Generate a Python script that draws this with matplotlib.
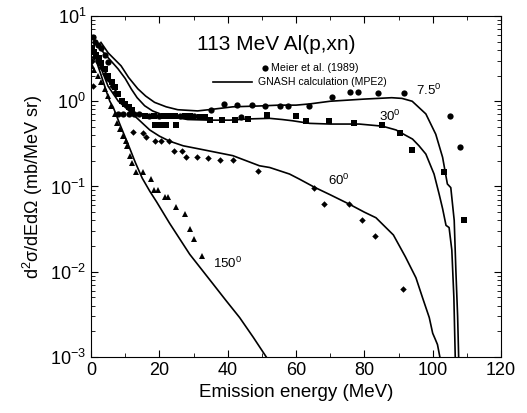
import matplotlib
matplotlib.use("Agg")
import matplotlib.pyplot as plt
from matplotlib.ticker import MultipleLocator, LogLocator, NullFormatter

plt.rcParams['font.family'] = ['Liberation Sans', 'DejaVu Sans']
plt.rcParams['mathtext.fontset'] = 'custom'
plt.rcParams['mathtext.rm'] = 'Liberation Sans'
plt.rcParams['mathtext.it'] = 'Liberation Sans'

# ---- calculation curves (GNASH) ----
calc75_x = [2.9, 5, 8.8, 11, 13.7, 16, 18.6, 22, 25.4, 31.2, 35, 41.5, 49.3, 55, 60, 64, 70, 80, 88, 91,
            94, 98, 100.9, 102.9, 104.3, 105.3, 106.3, 106.8, 107.3, 107.6]
calc75_y = [4.9, 3.7, 2.6, 1.9, 1.4, 1.15, 0.97, 0.86, 0.795, 0.77, 0.80, 0.86, 0.88, 0.90, 0.90, 0.93, 1.0,
            1.06, 1.1, 1.08, 1.0, 0.71, 0.41, 0.22, 0.107, 0.097, 0.04, 0.01, 0.003, 0.001]

calc30_x = [1.5, 4, 7.9, 10, 11.8, 13.5, 15.7, 18, 21.5, 28.3, 35, 40.6, 46, 52.3, 56, 59, 64, 70, 78.5,
            85.3, 89.3, 92, 94.1, 96, 98, 100.4, 101.9, 102.9, 103.9, 104.8, 105.6, 106.2, 106.6]
calc30_y = [4.7, 3.6, 2.4, 1.85, 1.39, 1.1, 0.885, 0.77, 0.68, 0.61, 0.60, 0.60, 0.62, 0.63, 0.61, 0.59,
            0.55, 0.54, 0.54, 0.51, 0.46, 0.40, 0.36, 0.30, 0.24, 0.14, 0.081, 0.055, 0.035, 0.033, 0.018,
            0.005, 0.001]

calc60_x = [1.5, 3, 5, 8, 10, 14.3, 17.2, 20, 23, 27, 31.8, 41.5, 49.3, 52.3, 58.1, 61, 65.4, 70, 75.6,
            80, 83.4, 88.5, 92, 95.1, 97, 99, 100, 100.8, 101.4, 102.1]
calc60_y = [3.8, 2.4, 1.5, 1.0, 0.85, 0.59, 0.46, 0.39, 0.34, 0.30, 0.275, 0.23, 0.175, 0.167, 0.14, 0.122,
            0.098, 0.08, 0.062, 0.05, 0.043, 0.027, 0.015, 0.0085, 0.005, 0.0029, 0.0019, 0.0016, 0.0014,
            0.001]

calc150_x = [1.5, 3, 4.5, 5.5, 6.5, 8.5, 10.9, 13, 15, 17.2, 19.2, 23, 28.9, 35.7, 39.5, 43.5, 47.5, 51.3]
calc150_y = [3.0, 2.0, 1.3, 1.0, 0.85, 0.53, 0.31, 0.19, 0.125, 0.088, 0.066, 0.037, 0.016, 0.0072,
             0.0046, 0.0029, 0.0017, 0.001]

# ---- experimental data (Meier et al. 1989) ----
exp75_x = [0.6, 1.2, 2.0, 3.0, 4.0, 5.0, 8.0, 9.5, 11, 12.5, 14, 17, 20, 26, 30, 44,
           35, 38.8, 42.8, 47.2, 50.8, 55.4, 57.8, 63.9, 70.6, 75.8, 78.2, 83.9, 91.7, 105.2, 107.9]
exp75_y = [5.7, 5.0, 4.6, 4.2, 3.5, 2.9, 0.70, 0.71, 0.71, 0.70, 0.70, 0.68, 0.68, 0.68, 0.67, 0.66,
           0.79, 0.93, 0.91, 0.91, 0.886, 0.89, 0.89, 0.87, 1.11, 1.29, 1.29, 1.26, 1.25, 0.68, 0.29]

exp30_x = [0.3, 0.8, 1.5, 2.2, 3.0, 4, 5, 6, 7, 8, 9, 10, 11, 12,
           15.8, 18.5, 21.5, 23, 24.5, 27.5, 29, 32, 33.5,
           18.6, 20.1, 22, 24.9,
           34.7, 38.2, 42, 45.9, 51.4, 60, 63, 69.6, 77.1, 85.2, 90.4, 93.8, 103.4, 109.2]
exp30_y = [4.2, 3.8, 3.5, 3.2, 2.8, 2.4, 2.0, 1.7, 1.45, 1.2, 1.0, 0.92, 0.85, 0.78,
           0.68, 0.68, 0.68, 0.68, 0.67, 0.67, 0.67, 0.66, 0.66,
           0.53, 0.53, 0.53, 0.52,
           0.61, 0.61, 0.61, 0.62, 0.69, 0.68, 0.59, 0.59, 0.55, 0.53, 0.42, 0.27, 0.149, 0.04]

exp60_x = [0.3, 1, 2, 3, 4, 5, 6, 7, 0.6,
           12.4, 15.3, 16.2, 18.7, 20.6, 22.9, 24.2, 26.7, 27.9, 30.9, 34.3, 37.7, 41.6, 48.9,
           65.2, 68.3, 75.4, 79.2, 83.1, 91.3]
exp60_y = [3.0, 3.3, 2.9, 2.5, 2.1, 1.8, 1.5, 1.3, 1.5,
           0.43, 0.42, 0.376, 0.34, 0.34, 0.34, 0.263, 0.263, 0.224, 0.224, 0.215, 0.206, 0.206, 0.153,
           0.097, 0.062, 0.062, 0.041, 0.026, 0.0062]

exp150_x = [0.2, 1, 2, 3, 4, 5, 5.8, 7, 7.5, 8.5, 9.4, 10.1, 10.4, 11.4, 11.9, 13.3, 15.3, 17.5, 18.4, 19.7,
            21.6, 22.6, 24.8, 27.4, 29.1, 30.2, 32.5]
exp150_y = [2.6, 2.3, 2.0, 1.7, 1.4, 1.15, 0.885, 0.71, 0.56, 0.47, 0.39, 0.34, 0.30, 0.23, 0.19, 0.146,
            0.146, 0.122, 0.091, 0.091, 0.075, 0.075, 0.057, 0.048, 0.032, 0.024, 0.0154]

angle_labels = [r'7.5$^0$', r'30$^0$', r'60$^0$', r'150$^0$']
label_x = [95.2, 84.4, 69.5, 35.6]
label_y = [1.33, 0.67, 0.117, 0.0124]

fig = plt.figure(figsize=(5.27, 4.13), dpi=100)
ax = fig.add_axes([0.1727, 0.1356, 0.7780, 0.8257])

lw = 1.2
for cx, cy in [(calc75_x, calc75_y), (calc30_x, calc30_y), (calc60_x, calc60_y), (calc150_x, calc150_y)]:
    ax.plot(cx, cy, color='black', lw=lw)

ax.plot(exp75_x, exp75_y, 'o', color='black', ms=4.5, mew=0)
ax.plot(exp30_x, exp30_y, 's', color='black', ms=4.0, mew=0)
ax.plot(exp60_x, exp60_y, 'D', color='black', ms=3.3, mew=0)
ax.plot(exp150_x, exp150_y, '^', color='black', ms=5.0, mew=0)

for t, lx, ly in zip(angle_labels, label_x, label_y):
    ax.text(lx, ly, t, fontsize=9.5, va='center', ha='left')

ax.set_yscale('log')
ax.set_xlim(0, 120)
ax.set_ylim(1e-3, 10)
ax.xaxis.set_major_locator(MultipleLocator(20))
ax.xaxis.set_minor_locator(MultipleLocator(10))
ax.yaxis.set_minor_locator(LogLocator(base=10, subs=range(2, 10)))
ax.yaxis.set_minor_formatter(NullFormatter())
ax.tick_params(which='both', direction='in', top=True, right=True, labelsize=13)
ax.tick_params(which='major', length=5)
ax.tick_params(which='minor', length=3)

ax.set_xlabel('Emission energy (MeV)', fontsize=13.5)
ax.set_ylabel(r'd$^2$σ/dEdΩ (mb/MeV sr)', fontsize=13)

# title and legend
ax.text(0.451, 0.915, '113 MeV Al(p,xn)', transform=ax.transAxes, ha='center', va='center', fontsize=15)
ax.plot([0.424], [0.848], 'o', color='black', ms=4.5, mew=0, transform=ax.transAxes)
ax.text(0.44, 0.848, 'Meier et al. (1989)', transform=ax.transAxes, ha='left', va='center', fontsize=7.7)
ax.plot([0.298, 0.393], [0.806, 0.806], color='black', lw=lw, transform=ax.transAxes)
ax.text(0.407, 0.806, 'GNASH calculation (MPE2)', transform=ax.transAxes, ha='left', va='center', fontsize=7.6)

fig.savefig('out.png', dpi=100)
